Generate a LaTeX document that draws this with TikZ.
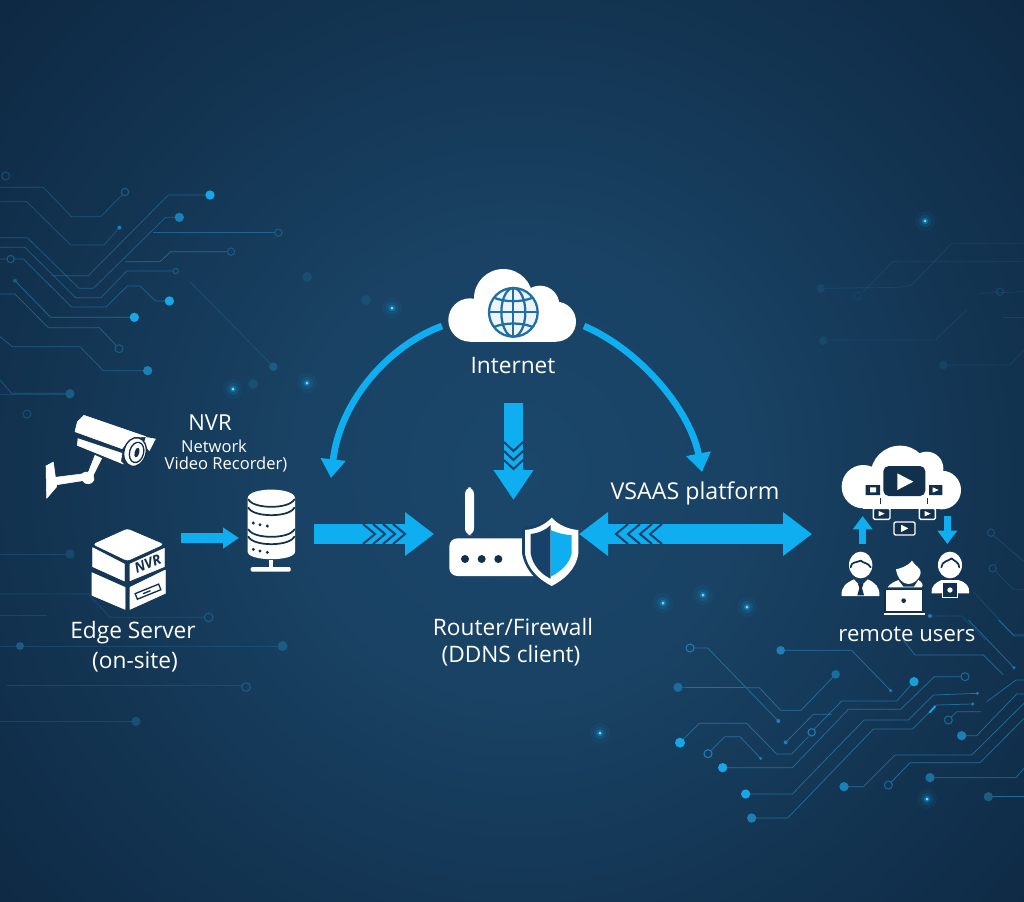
\documentclass[tikz,border=0pt]{standalone}
\usepackage{fontspec}
\setmainfont{Open Sans}
\usetikzlibrary{arrows.meta}
\definecolor{bga}{HTML}{1B476B}
\definecolor{bgb}{HTML}{194264}
\definecolor{bgc}{HTML}{123350}
\definecolor{bge}{HTML}{0D2640}
\definecolor{bgd}{HTML}{081A2A}
\definecolor{flow}{HTML}{0FAEF0}
\definecolor{gap}{HTML}{17406A}
\definecolor{ink}{HTML}{10304C}
\definecolor{globec}{HTML}{1F6FA3}
\definecolor{tr}{HTML}{2A80B5}
\definecolor{trb}{HTML}{18A6E6}
\definecolor{trm}{HTML}{1C7FB5}
\definecolor{trd}{HTML}{1C5B82}
\pgfdeclareradialshading{bgshade}{\pgfpoint{0bp}{0bp}}{color(0bp)=(bga); color(7bp)=(bgb); color(15.5bp)=(bgc); color(23.3bp)=(bge); color(35.4bp)=(bgd); color(50bp)=(bgd)}
\newcommand{\glowdot}[1]{%
  \fill[flow,opacity=.06] (#1) circle[radius=10];
  \fill[flow,opacity=.12] (#1) circle[radius=6];
  \fill[flow,opacity=.35] (#1) circle[radius=3.2];
  \fill[white!50!cyan] (#1) circle[radius=1.5];}
\newcommand{\dimdot}[1]{\fill[trd,opacity=.5] (#1) circle[radius=5];}
\newcommand{\fdot}[3]{\fill[#1] (#2) circle[radius=#3];}
\newcommand{\rdot}[3]{\draw[#1,line width=.8pt] (#2) circle[radius=#3];}
\newcommand{\chevR}[1]{\draw[gapline] (#1,524) -- ++(12,10) -- ++(-12,10);}
\newcommand{\chevL}[1]{\draw[gapline] (#1,524) -- ++(-12,10) -- ++(12,10);}
\newcommand{\chevD}[1]{\draw[gapline] (504,#1) -- ++(9.5,9) -- ++(9.5,-9);}
\tikzset{
  lbl/.style={text=white,inner sep=0pt,align=center,font=\fontsize{17}{20}\selectfont},
  small/.style={lbl,font=\fontsize{12.4}{15}\selectfont},
  tl/.style={draw=tr,line width=.55pt,opacity=.75,line join=round},
  tf/.style={draw=tr,line width=.55pt,opacity=.28,line join=round},
  gapline/.style={draw=gap,line width=1.5pt,line join=miter},
  block/.style={draw=flow,line width=15pt,-{Triangle[length=21.75pt,width=31.5pt]}},
  arcflow/.style={draw=flow,line width=5pt,-{Triangle[length=14pt,width=18pt]}},
  hflow/.style={draw=flow,line width=5.25pt,-{Triangle[length=10pt,width=14.25pt]}},
  tinyflow/.style={draw=flow,line width=7pt,-{Triangle[length=12pt,width=15pt]}},
  icon/.style={fill=white,draw=white,line width=.4pt,line join=round},
  cut/.style={draw=ink,line width=1.3pt,line cap=round,line join=round},
  vid/.style={fill=ink,draw=white,line width=1pt,rounded corners=1pt},
}
\begin{document}
\begin{tikzpicture}[x=.75pt,y=-.75pt]
\useasboundingbox (0,0) rectangle (1024,901);
\begin{scope}
\clip (0,0) rectangle (1024,901);
\shade[shading=bgshade] (-280,-330) rectangle (1320,1270);

% ---- circuit traces, upper left (zoom coordinates)
\begin{scope}[shift={(0,160)},x=.25pt,y=-.25pt]
\draw[tl,opacity=.45] (0,82)--(130,82)--(215,170)--(302,170)--(368,103);
\rdot{trd}{375,96}{11}
\draw[tl,opacity=.45] (0,125)--(80,125)--(212,255)--(312,255)--(358,203);
\fdot{trm}{358,203}{6}
\draw[tl,opacity=.55] (0,233)--(82,233)--(237,385)--(280,385)--(497,172)--(538,172);
\fdot{trm}{538,172}{14}
\draw[tl,opacity=.6] (460,218)--(825,218);
\rdot{trd}{835,218}{11}
\draw[tl,opacity=.55] (0,262)--(75,262)--(227,413)--(303,413)--(380,333)--(520,333);
\rdot{trd}{527,333}{8}
\draw[tl,opacity=.55] (155,347)--(265,347)--(505,105)--(630,105);
\fdot{trb}{630,105}{14}
\draw[tl,opacity=.7] (375,305)--(480,305)--(512,275)--(683,275);
\rdot{trd}{693,275}{11}
\draw[tl,opacity=.6] (0,297)--(22,297) (42,297)--(70,297)--(215,441)--(318,441)--(382,378)--(420,378)--(467,423)--(508,423);
\rdot{trd}{32,297}{11}
\fdot{trb}{508,423}{14}
\draw[tl,opacity=.7] (45,362)--(152,472)--(403,472);
\fdot{trd}{45,362}{6}
\fdot{trb}{403,472}{14}
\draw[tl,opacity=.6] (0,402)--(45,402)--(145,503)--(298,503)--(350,558);
\rdot{trd}{357,566}{12}
\draw[tl,opacity=.55] (0,530)--(37,560)--(240,560)--(310,632)--(443,632);
\fdot{trm}{443,632}{14}
\draw[tl,opacity=.5] (0,660)--(35,700)--(210,700);
\fdot{trd}{210,700}{13}
\draw[tf] (570,365)--(820,620);
\fdot{trd}{820,620}{13}
\rdot{trd!60!bgc}{17,48}{12}
\end{scope}

% ---- faint traces, lower left
\begin{scope}[shift={(0,520)},x=.25pt,y=-.25pt]
\draw[tf] (0,102)--(210,102);
\fdot{trd!55!bgc}{210,102}{14}
\draw[tf] (0,222)--(265,222)--(330,292)--(612,292);
\draw[tf] (0,286)--(140,286);
\rdot{trd}{626,292}{13}
\draw[tf] (0,378)--(832,378);
\fdot{trd}{60,378}{12}
\fdot{trd}{848,378}{15}
\draw[tf] (20,497)--(725,497);
\rdot{trd}{738,501}{13}
\draw[tf] (0,604)--(395,604);
\fdot{trd!70!bgc}{408,604}{14}
\end{scope}
\draw[tf] (0,394)--(70,394);
\fdot{trd}{70,394}{4.5}
\rdot{trd!70!bgc}{27,414}{4}

% ---- faint traces, upper right
\begin{scope}[shift={(780,200)},x=.25pt,y=-.25pt]
\draw[tf,opacity=.2] (515,130)--(732,130) (515,130)--(395,255)--(360,262)--(122,265);
\draw[tf,opacity=.2] (338,185)--(732,185) (338,185)--(250,275);
\rdot{trd!40!bgc}{232,288}{12}
\fdot{trd!50!bgc}{122,265}{13}
\draw[tf,opacity=.2] (600,280)--(732,275);
\rdot{trd!50!bgc}{660,275}{11}
\draw[tf,opacity=.2] (670,353)--(732,353);
\draw[tf,opacity=.2] (130,420)--(465,420)--(560,330);
\fdot{trd!50!bgc}{130,422}{13}
\draw[tf,opacity=.2] (490,495)--(690,495)--(732,450);
\fdot{trd!40!bgc}{490,495}{13}
\end{scope}

% ---- traces, right edge
\begin{scope}[shift={(900,520)},x=.25pt,y=-.25pt]
\draw[tf] (283,48)--(372,125);
\rdot{trd!70!bgc}{273,38}{11}
\draw[tf] (288,155)--(340,208)--(372,208);
\rdot{trd!70!bgc}{278,145}{11}
\draw[tf] (220,215)--(345,350)--(372,350);
\draw[tf] (85,288)--(185,288)--(255,360);
\fdot{trm}{90,288}{6}
\end{scope}

% ---- traces, lower right
\begin{scope}[shift={(640,620)},x=.25pt,y=-.25pt]
\draw[tl] (162,84)--(203,84)--(415,303);
\rdot{trm}{150,84}{12}
\fdot{trm}{415,303}{6}
\draw[tl] (422,91)--(635,91)--(752,212);
\fdot{trm}{422,91}{13}
\fdot{trm}{752,212}{5}
\draw[tl] (114,202)--(358,203)--(422,271)--(483,271)--(587,163);
\fdot{trm!75!bgc}{114,202}{14}
\fdot{trm!75!bgc}{587,163}{13}
\draw[tl] (120,368)--(178,310)--(320,310)--(410,402)--(455,402)--(505,350);
\fdot{trb}{120,368}{15}
\rdot{trm}{515,337}{11}
\draw[tl] (214,391)--(255,350)--(300,350)--(362,415);
\rdot{trm}{204,401}{12}
\fdot{trm}{362,415}{5}
\draw[tl] (437,367)--(520,283)--(575,283);
\fdot{trm}{437,367}{6}
\draw[tl] (522,328)--(605,243)--(770,243)--(822,185);
\fdot{trb!80!trm}{822,185}{14}
\draw[tl] (248,443)--(457,443)--(625,268)--(782,268)--(883,170)--(965,170);
\fdot{trb}{248,443}{14}
\rdot{trm!70!bgc}{975,170}{12}
\draw[tl] (317,522)--(457,522)--(672,300)--(805,300)--(880,225)--(1012,220);
\fdot{trb}{317,522}{14}
\fdot{trm}{1012,220}{5}
\draw[tl] (335,594)--(443,594)--(700,327)--(818,327)--(890,255)--(998,252);
\fdot{trm}{335,594}{14}
\fdot{trm}{998,252}{5}
\draw[flow,line width=1.3pt] (868,278)--(886,258);
\draw[tl] (933,292)--(950,275)--(1022,275);
\rdot{trm!70!bgc}{925,300}{12}
\draw[tl] (965,347)--(1010,347)--(1130,222)--(1152,222);
\fdot{trm}{965,347}{14}
\draw[tl] (1040,245)--(1128,180)--(1152,180);
\draw[tl] (612,500)--(670,500)--(765,405)--(995,405)--(1152,250);
\fdot{trm}{612,500}{14}
\draw[tl] (753,487)--(810,428)--(1020,428)--(1152,295);
\rdot{trm!70!bgc}{745,495}{12}
\draw[tl] (870,473)--(1128,473)--(1152,445);
\fdot{trm!80!bgc}{870,473}{14}
\draw[tl] (1045,530)--(1152,530);
\fdot{trd}{1045,530}{14}
\draw[tl] (790,60)--(825,105)--(1030,105)--(1090,165);
\draw[tl] (985,0)--(1122,143);
\fdot{trm}{1122,143}{5}
\draw[tl] (1075,0)--(1120,45)--(1152,45);
\end{scope}

% ---- glowing specks
\glowdot{925,221}\glowdot{392,308}\glowdot{233,389}\glowdot{307,383}
\glowdot{663,603}\glowdot{703,595}\glowdot{747,607}\glowdot{600,733}\glowdot{927,799}
\dimdot{366,300}\dimdot{307,277}\dimdot{253,384}
\end{scope}

% ---- anchor points of the connectors
\coordinate (cloudL) at (442,326);
\coordinate (cloudR) at (584,326);
\coordinate (nvrIn)  at (331,478);
\coordinate (vsaasIn) at (702,472);
\coordinate (edgeOut) at (181,538);
\coordinate (dbIn) at (239,538);
\coordinate (dbOut) at (314,534);
\coordinate (routerL) at (434,534);
\coordinate (routerR) at (579,534);
\coordinate (usersL) at (812,534);
\coordinate (inetOut) at (513.5,403);
\coordinate (routerT) at (513.5,500);

% ---- Internet cloud and globe
\begin{scope}[shift={(300,260)},x=.25pt,y=-.25pt]
\fill[white] (610,115) circle[radius=88] (720,135) circle[radius=58] (510,180) circle[radius=65]
  (768,185) circle[radius=60];
\fill[white] (510,150) rectangle (768,245);
\fill[globec!8] (640,157) circle[radius=73];
\begin{scope}[draw=globec,line width=1.7pt]
\draw (640,157) circle[radius=73];
\draw (640,157) ellipse[x radius=36,y radius=73];
\draw (640,84) -- (640,230) (567,157) -- (713,157);
\draw (582,113) .. controls (615,127) and (665,127) .. (698,113);
\draw (582,201) .. controls (615,187) and (665,187) .. (698,201);
\end{scope}
\end{scope}
\node[lbl] (internet) at (513,366) {Internet};

% ---- flows
\draw[arcflow] (cloudL) .. controls (390,345) and (340,400) .. (nvrIn);
\draw[arcflow] (cloudR) .. controls (640,350) and (690,410) .. (vsaasIn);
\draw[draw=flow,line width=14.25pt,-{Triangle[length=22.5pt,width=28.5pt]}] (inetOut) -- (routerT);
\chevD{442}\chevD{451}\chevD{460}
\draw[block] (dbOut) -- (routerL);
\chevR{363}\chevR{373}\chevR{383}\chevR{393}
\draw[draw=flow,line width=15pt,{Triangle[length=21.75pt,width=31.5pt]}-{Triangle[length=21.75pt,width=31.5pt]}] (routerR) -- (usersL);
\chevL{628}\chevL{640}\chevL{652}\chevL{662}
\draw[tinyflow] (edgeOut) -- (dbIn);

% ---- camera
\begin{scope}[shift={(20,390)},x=.25pt,y=-.25pt]
\fill[icon] (192,76) -- (378,140) -- (345,142) -- (320,158) -- (306,176) -- (165,125) -- (172,96) -- cycle;
\fill[icon] (174,146) -- (306,190) -- (302,214) -- (310,222) -- (172,166) -- cycle;
\fill[icon] (378,142) -- (406,147) -- (388,182) -- (372,160) -- cycle;
\fill[icon] (225,196) -- (245,205) -- (220,255) -- (222,270) .. controls (215,285) and (195,285) .. (188,272)
  -- (105,285) -- (105,262) -- (185,252) .. controls (195,245) and (200,245) .. (205,247) -- cycle;
\fill[icon] (78,228) -- (100,216) -- (110,290) -- (80,325) -- cycle;
\draw[ink,line width=1pt,fill=white,rotate around={-15:(345,186)}] (345,186) ellipse[x radius=33,y radius=44];
\draw[ink,line width=1pt,fill=white,rotate around={-15:(345,186)}] (350,186) ellipse[x radius=21,y radius=31];
\fill[ink,rotate around={-15:(345,186)}] (351,186) ellipse[x radius=7,y radius=15];
\end{scope}
\node[lbl,font=\fontsize{16.5}{18}\selectfont] (nvrtitle) at (210,423) {NVR};
\node[small] (nvrline1) at (214,446) {Network};
\node[small] (nvrline2) at (226,465) {Video Recorder)};

% ---- edge server box
\begin{scope}[shift={(20,390)},x=.25pt,y=-.25pt]
\fill[icon,rounded corners=2pt] (322,417) -- (430,463) -- (322,512) -- (220,463) -- cycle;
\fill[icon] (218,473) -- (313,522) -- (313,573) -- (218,530) -- cycle;
\fill[icon] (330,522) -- (433,475) -- (433,530) -- (330,572) -- cycle;
\fill[icon] (216,548) -- (315,592) -- (315,658) -- (216,616) -- cycle;
\fill[icon] (330,592) -- (436,540) -- (436,610) -- (330,658) -- cycle;
\draw[ink,line width=1pt,fill=white,rotate around={22:(384,605)}] (346,596) rectangle (422,614);
\fill[ink,rotate around={22:(384,605)}] (368,603) rectangle (392,607);
\node[text=ink,inner sep=0pt,rotate=22,font=\fontsize{10.5}{11}\selectfont\bfseries\itshape] (nvrbadge) at (383,520) {NVR};
\end{scope}
\node[lbl] (edge1) at (133,633) {Edge Server};
\node[lbl] (edge2) at (135,662) {(on-site)};

% ---- database icon
\begin{scope}[shift={(20,390)},x=.25pt,y=-.25pt]
\fill[white] (683,325) -- (683,485) .. controls (683,515) and (825,515) .. (825,485) -- (825,325)
  .. controls (825,290) and (683,290) .. (683,325) -- cycle;
\draw[cut] (685,328) .. controls (700,358) and (808,358) .. (823,328);
\draw[cut] (685,353) .. controls (700,383) and (808,383) .. (823,353);
\draw[cut] (685,418) .. controls (700,448) and (808,448) .. (823,418);
\draw[cut] (685,440) .. controls (700,470) and (808,470) .. (823,440);
\fill[ink] (700,399) circle[radius=5] (720,404) circle[radius=5] (742,408) circle[radius=5]
  (700,478) circle[radius=5] (720,483) circle[radius=5] (742,487) circle[radius=5];
\fill[white] (746,510) rectangle (760,532);
\fill[white,rounded corners=1pt] (692,531) rectangle (812,545);
\end{scope}

% ---- router and shield
\begin{scope}[shift={(300,470)},x=.25pt,y=-.25pt]
\fill[white,rounded corners=5pt] (495,52) -- (522,52) -- (522,195) -- (495,195) -- cycle;
\fill[white,rounded corners=6pt] (448,205) rectangle (740,318);
\fill[ink] (495,267) circle[radius=12] (545,267) circle[radius=12] (595,267) circle[radius=12];
\path[fill=gap] (666,175) -- (755,150) -- (755,356) .. controls (720,340) and (678,310) .. (666,250) -- cycle;
\path[fill=white] (675,180) .. controls (705,178) and (735,165) .. (755,143) .. controls (775,165) and (805,178) .. (835,180)
  -- (835,250) .. controls (828,300) and (790,330) .. (755,348) .. controls (720,330) and (683,300) .. (675,250) -- cycle;
\path[fill=gap] (692,192) .. controls (715,190) and (738,180) .. (752,165) -- (752,326)
  .. controls (722,312) and (698,285) .. (692,250) -- cycle;
\path[fill=flow] (752,180) .. controls (775,190) and (795,195) .. (815,195) -- (815,250)
  .. controls (808,282) and (782,305) .. (752,320) -- cycle;
\end{scope}
\node[lbl] (router1) at (513,627) {Router/Firewall};
\node[lbl] (router2) at (511,656) {(DDNS client)};
\node[lbl,font=\fontsize{17.4}{20}\selectfont] (vsaas) at (695,493) {VSAAS platform};

% ---- remote users group
\begin{scope}[shift={(820,430)},x=.25pt,y=-.25pt]
\fill[white] (240,135) circle[radius=88] (130,170) circle[radius=65] (365,180) circle[radius=58] (320,115) circle[radius=50];
\fill[white] (130,170) rectangle (365,236);
\fill[ink,rounded corners=4pt] (190,108) rectangle (316,198);
\fill[white] (232,130) -- (280,155) -- (232,180) -- cycle;
\fill[ink] (137,165) rectangle (180,195) (327,165) rectangle (367,195);
\fill[white] (150,172) rectangle (168,187) (338,172) -- (356,180) -- (338,188) -- cycle;
\draw[ink,line width=.9pt] (182,205)--(182,222) (322,205)--(322,222);
\draw[vid] (160,235) rectangle (210,268);
\fill[white] (176,243) -- (194,251) -- (176,259) -- cycle;
\draw[vid] (298,235) rectangle (346,268);
\fill[white] (314,243) -- (332,251) -- (314,259) -- cycle;
\draw[vid] (222,276) rectangle (285,315);
\fill[white] (243,284) -- (265,295) -- (243,306) -- cycle;
\draw[hflow] (128,342) -- (128,258);
\draw[hflow] (382,258) -- (382,342);
% left person
\fill[white] (122,405) ellipse[x radius=35,y radius=40];
\draw[cut] (92,412) .. controls (92,395) and (110,398) .. (122,392) .. controls (130,400) and (145,398) .. (152,412);
\fill[white] (65,498) .. controls (62,470) and (80,458) .. (102,448) -- (122,470) -- (143,448)
  .. controls (165,458) and (180,470) .. (178,498) -- cycle;
\fill[ink] (114,462) -- (130,462) -- (126,474) -- (132,496) -- (112,496) -- (118,474) -- cycle;
% centre person
\fill[white] (228,418) .. controls (240,415) and (262,410) .. (276,392) .. controls (282,405) and (305,415) .. (302,428)
  .. controls (298,450) and (280,462) .. (265,462) .. controls (248,462) and (232,445) .. (228,418) -- cycle;
\fill[white] (203,472) .. controls (210,460) and (225,455) .. (235,450) -- (250,470) -- (282,470) -- (295,450)
  .. controls (305,455) and (312,465) .. (305,472) -- cycle;
\fill[white,draw=ink,line width=1pt] (195,478) rectangle (308,546);
\fill[ink] (251,512) circle[radius=7];
\fill[white] (192,550) rectangle (316,556);
% right person
\fill[white] (390,405) ellipse[x radius=36,y radius=40];
\draw[cut] (364,412) .. controls (366,392) and (385,394) .. (395,385) .. controls (403,395) and (416,394) .. (418,412);
\fill[white] (335,490) .. controls (330,470) and (350,455) .. (365,450) -- (415,450)
  .. controls (435,455) and (452,470) .. (447,490) -- cycle;
\draw[ink,line width=1pt,fill=ink] (368,456) rectangle (412,500);
\draw[white,line width=1.2pt] (368,456) rectangle (412,503);
\fill[white] (390,480) circle[radius=8];
\end{scope}
\node[lbl,font=\fontsize{16.6}{20}\selectfont] (remote) at (907,634) {remote users};
\end{tikzpicture}
\end{document}
